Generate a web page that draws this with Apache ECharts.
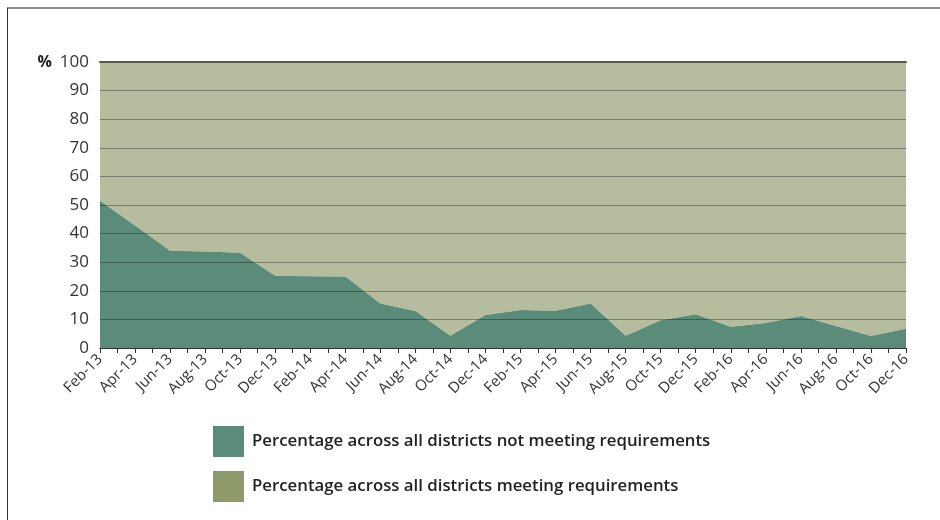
<!DOCTYPE html>
<html>
<head>
<meta charset="utf-8">
<style>
    html, body{
        margin: 0;
        padding: 0;
        background: #fff;
    }
    #main{
        width: 940px;
        height: 520px;
    }
</style>
<script src="https://cdn.jsdelivr.net/npm/echarts@6/dist/echarts.min.js"></script>
</head>
<body>
<div id="main"></div>
<script>
    // 数据
    var months = ['Feb-13','Apr-13','Jun-13','Aug-13','Oct-13','Dec-13','Feb-14','Apr-14','Jun-14','Aug-14','Oct-14','Dec-14',
                  'Feb-15','Apr-15','Jun-15','Aug-15','Oct-15','Dec-15','Feb-16','Apr-16','Jun-16','Aug-16','Oct-16','Dec-16'];
    var notMeeting = [51.5, 42.8, 34.0, 33.7, 33.3, 25.3, 25.1, 25.0, 15.6, 12.9, 4.3, 11.5,
                      13.3, 13.0, 15.6, 4.3, 9.7, 11.8, 7.4, 8.7, 11.2, 7.7, 4.2, 6.7];
    var meeting = [48.5, 57.2, 66.0, 66.3, 66.7, 74.7, 74.9, 75.0, 84.4, 87.1, 95.7, 88.5,
                   86.7, 87.0, 84.4, 95.7, 90.3, 88.2, 92.6, 91.3, 88.8, 92.3, 95.8, 93.3];
    var seriesNames = ['Percentage across all districts not meeting requirements',
                       'Percentage across all districts meeting requirements'];

    var colNot = '#5b8c79';
    var colMeet = '#8f9a6b';

    var myChart = echarts.init(document.getElementById('main'));
    var option = {
        animation: false,
        grid: {
            left: 100,
            right: 34,
            top: 62,
            bottom: 172
        },
        legend: {
            orient: 'vertical',
            left: 208,
            top: 421,
            itemWidth: 31,
            itemHeight: 31,
            itemGap: 14,
            icon: 'rect',
            selectedMode: false,
            textStyle: {
                fontFamily: 'Open Sans',
                fontWeight: 600,
                fontSize: 16.8,
                color: '#222',
                padding: [0, 0, 0, 3]
            },
            data: [
                {name: seriesNames[0], itemStyle: {color: colNot, opacity: 1}},
                {name: seriesNames[1], itemStyle: {color: colMeet, opacity: 1}}
            ]
        },
        xAxis: [
            {
                // 数据用的类目轴，不显示
                type: 'category',
                boundaryGap: false,
                data: months,
                show: false
            },
            {
                // 刻度和标签
                type: 'value',
                position: 'bottom',
                min: 0,
                max: months.length - 1,
                interval: 1,
                z: 6,
                splitLine: {show: false},
                axisLine: {show: true, lineStyle: {color: '#333', width: 1}},
                axisTick: {show: true, length: 5, lineStyle: {color: '#333'}},
                minorTick: {show: true, splitNumber: 2, length: 5, lineStyle: {color: '#333'}},
                axisLabel: {
                    rotate: 45,
                    margin: 9,
                    fontFamily: 'Open Sans',
                    fontSize: 15,
                    color: '#333',
                    formatter: function (v) { return months[v] || ''; }
                }
            },
            {
                type: 'value',
                position: 'top',
                min: 0,
                max: months.length - 1,
                splitLine: {show: false},
                axisLine: {show: true, lineStyle: {color: '#555a4c', width: 2}},
                axisTick: {show: false},
                axisLabel: {show: false},
                z: 6
            }
        ],
        yAxis: {
            type: 'value',
            min: 0,
            max: 100,
            interval: 10,
            z: 5,
            name: '%',
            nameLocation: 'end',
            nameGap: 0,
            nameTextStyle: {
                fontFamily: 'Open Sans',
                fontWeight: 'bold',
                fontSize: 16,
                color: '#222',
                align: 'right',
                verticalAlign: 'middle',
                padding: [0, 48, 0, 0]
            },
            axisLine: {show: false},
            axisTick: {show: false},
            axisLabel: {
                margin: 11,
                fontFamily: 'Open Sans',
                fontSize: 17,
                color: '#333'
            },
            splitLine: {
                show: true,
                lineStyle: {color: 'rgba(0,0,0,0.33)', width: 1}
            }
        },
        series: [
            {
                name: seriesNames[0],
                type: 'line',
                xAxisIndex: 0,
                stack: 'total',
                symbol: 'none',
                lineStyle: {width: 0},
                itemStyle: {color: colNot},
                areaStyle: {color: colNot, opacity: 1},
                data: notMeeting
            },
            {
                name: seriesNames[1],
                type: 'line',
                xAxisIndex: 0,
                stack: 'total',
                symbol: 'none',
                lineStyle: {width: 0},
                itemStyle: {color: colMeet},
                areaStyle: {color: colMeet, opacity: 0.65},
                data: meeting
            }
        ],
        graphic: [
            {
                type: 'line',
                shape: {x1: 7, y1: 8, x2: 940, y2: 8},
                style: {stroke: '#8a8a8a', lineWidth: 2}
            },
            {
                type: 'line',
                shape: {x1: 7.5, y1: 8, x2: 7.5, y2: 520},
                style: {stroke: '#333', lineWidth: 1}
            }
        ]
    };
    myChart.setOption(option);
</script>
</body>
</html>
